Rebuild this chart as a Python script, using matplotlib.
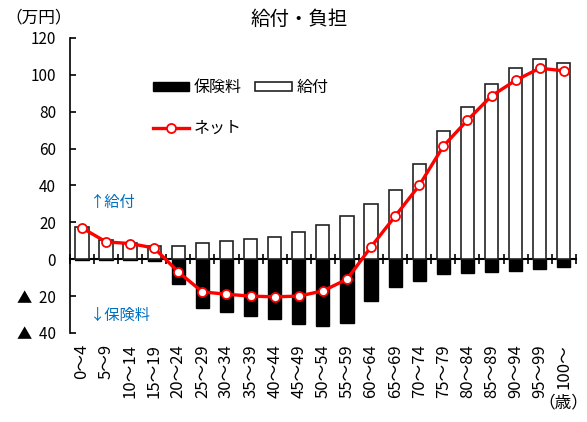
import matplotlib.pyplot as plt
import numpy as np

plt.rcParams['font.family'] = ['Noto Sans CJK JP', 'DejaVu Sans']

# age groups
ages = ['0～4', '5～9', '10～14', '15～19', '20～24', '25～29', '30～34', '35～39',
        '40～44', '45～49', '50～54', '55～59', '60～64', '65～69', '70～74',
        '75～79', '80～84', '85～89', '90～94', '95～99', '100～']
# benefits received (万円)
benefit = [17.5, 10.3, 8.7, 7.0, 7.0, 9.0, 10.0, 11.0, 12.1, 14.5, 18.4, 23.5,
           29.8, 37.6, 51.9, 69.6, 82.6, 95.1, 103.5, 108.5, 106.3]
# premiums paid (negative)
premium = [-0.3, -0.6, -0.3, -1.0, -13.6, -26.2, -28.6, -30.8, -32.6, -34.9, -36.0,
           -34.4, -22.8, -15.0, -11.8, -8.0, -7.4, -6.9, -6.2, -5.2, -4.2]
# net = benefit + premium
net = [17.0, 9.4, 8.5, 6.1, -6.9, -17.7, -19.0, -20.0, -20.4, -20.0, -17.2, -10.9,
       6.7, 23.3, 40.0, 61.3, 75.4, 88.6, 97.0, 103.6, 102.2]

yticks = [-40, -20, 0, 20, 40, 60, 80, 100, 120]
yticklabels = ['▲  40', '▲  20', '0', '20', '40', '60', '80', '100', '120']

x = np.arange(len(ages))

fig = plt.figure(figsize=(5.87, 4.22), dpi=100)
ax = fig.add_axes([0.119, 0.211, 0.862, 0.699])

b_prem = ax.bar(x, premium, width=0.55, color='black', edgecolor='black', linewidth=1.0,
                label='保険料', zorder=2)
b_ben = ax.bar(x, benefit, width=0.55, color='white', edgecolor='#222222', linewidth=1.2,
               label='給付', zorder=2)
l_net, = ax.plot(x, net, color='#FF0000', linewidth=2.4, marker='o', markersize=6.5,
                 markerfacecolor='white', markeredgecolor='#FF0000', markeredgewidth=1.3,
                 label='ネット', zorder=3)

ax.set_xlim(-0.5, len(ages) - 0.5)
ax.set_ylim(-40, 120)
ax.set_yticks(yticks)
ax.set_yticklabels(yticklabels, fontsize=11)
ax.tick_params(axis='y', direction='in', length=4, width=1.2, pad=10)

ax.set_xticks(x)
ax.set_xticklabels(ages, rotation=90, fontsize=12)
ax.tick_params(axis='x', length=0, pad=8)

for side in ['top', 'right', 'bottom']:
    ax.spines[side].set_visible(False)
ax.spines['left'].set_linewidth(1.2)

# zero line with ticks between the age groups
zero = ax.secondary_xaxis(0.25)
zero.set_xticks(np.arange(len(ages) + 1) - 0.5)
zero.set_xticklabels([])
zero.tick_params(direction='inout', length=7, width=1.2)
zero.spines['bottom'].set_linewidth(1.5)

ax.text(0.35, 31, '↑給付', color='#0070C0', fontsize=11, va='center')
ax.text(0.35, -30.5, '↓保険料', color='#0070C0', fontsize=11, va='center')

ax.legend([b_prem, l_net, b_ben], ['保険料', 'ネット', '給付'], ncol=2,
          loc='upper left', bbox_to_anchor=(0.135, 0.91), frameon=False,
          fontsize=11.5, handlelength=2.3, handleheight=0.5, columnspacing=0.8,
          labelspacing=1.5, handletextpad=0.3)

fig.text(0.065, 0.978, '（万円）', fontsize=12, ha='center', va='top')
fig.text(0.51, 0.978, '給付・負担', fontsize=14, ha='center', va='top')
fig.text(0.96, 0.045, '（歳）', fontsize=12, ha='center', va='center')

fig.savefig('out.png', dpi=100)
